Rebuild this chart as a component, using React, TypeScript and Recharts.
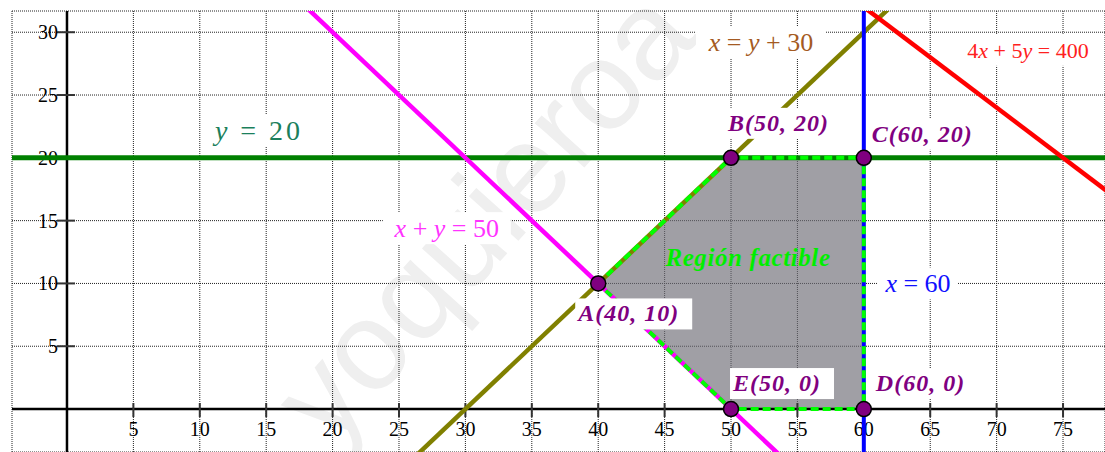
import React from "react";
import {
  ComposedChart,
  XAxis,
  YAxis,
  CartesianGrid,
  Line,
  Area,
  Scatter,
  ReferenceLine,
  ReferenceDot,
} from "recharts";

const xTicks = [5, 10, 15, 20, 25, 30, 35, 40, 45, 50, 55, 60, 65, 70, 75];
const yTicks = [5, 10, 15, 20, 25, 30];

// each constraint line, two points taken well outside the visible window
const rectaY20 = [{ x: -10, y: 20 }, { x: 90, y: 20 }];
const rectaSuma50 = [{ x: 10, y: 40 }, { x: 60, y: -10 }];
const rectaResta30 = [{ x: 20, y: -10 }, { x: 70, y: 40 }];
const rectaX60 = [{ x: 60, y: -10 }, { x: 60, y: 40 }];
const recta400 = [{ x: 50, y: 40 }, { x: 100, y: 0 }];

const vertices = [
  { nombre: "A", x: 40, y: 10 },
  { nombre: "B", x: 50, y: 20 },
  { nombre: "C", x: 60, y: 20 },
  { nombre: "D", x: 60, y: 0 },
  { nombre: "E", x: 50, y: 0 },
];

// feasible region as a range area (low, high) over x
const regionX = [40, 50, 60];
const regionBajo = [10, 0, 0];
const regionAlto = [10, 20, 20];

const region = regionX.map((x, i) => ({ x, rango: [regionBajo[i], regionAlto[i]] }));
const borde = [...vertices, vertices[0]];

// placement of the vertex labels (pixel offsets from the point)
const vertexLayout: Record<string, { dx: number; dy: number; w: number }> = {
  A: { dx: -20, dy: 30, w: 117 },
  B: { dx: -3, dy: -35, w: 115 },
  C: { dx: 8, dy: -24, w: 110 },
  D: { dx: 12, dy: -26, w: 100 },
  E: { dx: 2, dy: -26, w: 104 },
};

type Part = [string, boolean];
const lineLabels: {
  x: number;
  y: number;
  parts: Part[];
  color: string;
  size: number;
  w: number;
  spacing?: number;
}[] = [
  { x: 14.46, y: 22.2, parts: [["y", true], [" = 20", false]], color: "#1b7f5c", size: 28, w: 100, spacing: 3 },
  { x: 28.6, y: 14.4, parts: [["x", true], [" + ", false], ["y", true], [" = 50", false]], color: "#ff33ff", size: 26, w: 128 },
  { x: 52.26, y: 29.2, parts: [["x", true], [" = ", false], ["y", true], [" + 30", false]], color: "#a45a22", size: 26, w: 130 },
  { x: 72.36, y: 28.6, parts: [["4", false], ["x", true], [" + 5", false], ["y", true], [" = 400", false]], color: "#ff2020", size: 22, w: 140 },
  { x: 64.08, y: 10.0, parts: [["x", true], [" = 60", false]], color: "#1010ff", size: 26, w: 80 },
];

const serif = "'Liberation Serif', 'Times New Roman', serif";

function XTick(p: any, t: number) {
  return (
    <g>
      <line x1={p.cx} y1={p.cy - 6} x2={p.cx} y2={p.cy + 8} stroke="#333" strokeWidth={2} />
      <text x={p.cx} y={p.cy + 20} textAnchor="middle" dominantBaseline="central" fontFamily={serif} fontSize={20} fill="#000">
        {t}
      </text>
    </g>
  );
}

function YTick(p: any, t: number) {
  return (
    <g>
      <line x1={p.cx - 10} y1={p.cy} x2={p.cx + 8} y2={p.cy} stroke="#333" strokeWidth={2} />
      <text x={p.cx - 9} y={p.cy} textAnchor="end" dominantBaseline="central" fontFamily={serif} fontSize={20} fill="#000">
        {t}
      </text>
    </g>
  );
}

export default function App() {
  return (
    <div style={{ position: "absolute", left: 0, top: 0, width: 1105, height: 452, background: "#fff" }}>
      <svg width={1105} height={452} style={{ position: "absolute", left: 0, top: 0 }}>
        <text
          x={330}
          y={450}
          transform="rotate(-48 330 450)"
          fontFamily="'Liberation Sans', Arial, sans-serif"
          fontSize={126}
          fill="#efefef"
        >
          yoquieroa
        </text>
      </svg>
      <div style={{ position: "absolute", left: 0, top: 0 }}>
        <ComposedChart width={1105} height={452} margin={{ top: 11, right: 0, bottom: 0, left: 12 }}>
          <XAxis type="number" dataKey="x" domain={[-4.14, 78.16]} ticks={xTicks} allowDataOverflow hide />
          <YAxis type="number" dataKey="y" domain={[-3.42, 31.69]} ticks={yTicks} allowDataOverflow hide />
          <CartesianGrid stroke="#222" strokeDasharray="1 1" />

          <Area
            data={region}
            dataKey="rango"
            type="linear"
            fill="#6d6c74"
            fillOpacity={0.65}
            stroke="none"
            isAnimationActive={false}
            zIndex={100}
          />

          <ReferenceLine x={0} stroke="#000" strokeWidth={2.5} zIndex={150} />
          <ReferenceLine y={0} stroke="#000" strokeWidth={2.5} zIndex={150} />

          {xTicks.map((t) => (
            <ReferenceDot key={"xt" + t} x={t} y={0} r={0} shape={(p: any) => XTick(p, t)} zIndex={160} />
          ))}
          {yTicks.map((t) => (
            <ReferenceDot key={"yt" + t} x={0} y={t} r={0} shape={(p: any) => YTick(p, t)} zIndex={160} />
          ))}

          <Line data={rectaY20} dataKey="y" type="linear" stroke="#008000" strokeWidth={5} dot={false} activeDot={false} isAnimationActive={false} zIndex={400} />
          <Line data={rectaSuma50} dataKey="y" type="linear" stroke="#ff00ff" strokeWidth={4.5} dot={false} activeDot={false} isAnimationActive={false} zIndex={400} />
          <Line data={rectaResta30} dataKey="y" type="linear" stroke="#808000" strokeWidth={4.5} dot={false} activeDot={false} isAnimationActive={false} zIndex={400} />
          <Line data={rectaX60} dataKey="y" type="linear" stroke="#0000ff" strokeWidth={4} dot={false} activeDot={false} isAnimationActive={false} zIndex={400} />
          <Line data={recta400} dataKey="y" type="linear" stroke="#ff0000" strokeWidth={4.5} dot={false} activeDot={false} isAnimationActive={false} zIndex={400} />

          <Line
            data={borde}
            dataKey="y"
            type="linear"
            stroke="#00ff00"
            strokeWidth={4}
            strokeDasharray="8 4"
            dot={false}
            activeDot={false}
            isAnimationActive={false}
            zIndex={450}
          />

          <Scatter
            data={vertices}
            isAnimationActive={false}
            zIndex={600}
            shape={(p: any) => <circle cx={p.cx} cy={p.cy} r={7.5} fill="#800080" stroke="#000" strokeWidth={1.5} />}
          />

          <ReferenceDot
            x={51.28}
            y={12.1}
            r={0}
            zIndex={2000}
            shape={(p: any) => (
              <text
                x={p.cx}
                y={p.cy}
                textAnchor="middle"
                dominantBaseline="central"
                fontFamily={serif}
                fontSize={25}
                fontWeight="bold"
                fontStyle="italic"
                letterSpacing={0.6}
                fill="#00ee00"
              >
                Región factible
              </text>
            )}
          />

          {lineLabels.map((l, i) => (
            <ReferenceDot
              key={"ll" + i}
              x={l.x}
              y={l.y}
              r={0}
              zIndex={2000}
              shape={(p: any) => (
                <g>
                  <rect x={p.cx - l.w / 2} y={p.cy - 16} width={l.w} height={32} fill="#fff" />
                  <text
                    x={p.cx}
                    y={p.cy}
                    textAnchor="middle"
                    dominantBaseline="central"
                    fontFamily={serif}
                    fontSize={l.size}
                    letterSpacing={l.spacing ?? 0}
                    fill={l.color}
                    style={{ whiteSpace: "pre" }}
                  >
                    {l.parts.map(([s, it], k) => (
                      <tspan key={k} fontStyle={it ? "italic" : "normal"}>
                        {s}
                      </tspan>
                    ))}
                  </text>
                </g>
              )}
            />
          ))}

          {vertices.map((v) => {
            const lay = vertexLayout[v.nombre];
            return (
              <ReferenceDot
                key={"v" + v.nombre}
                x={v.x}
                y={v.y}
                r={0}
                zIndex={2000}
                shape={(p: any) => (
                  <g>
                    <rect x={p.cx + lay.dx - 3} y={p.cy + lay.dy - 15} width={lay.w} height={31} fill="#fff" />
                    <text
                      x={p.cx + lay.dx}
                      y={p.cy + lay.dy}
                      dominantBaseline="central"
                      fontFamily={serif}
                      fontSize={24}
                      fontWeight="bold"
                      fontStyle="italic"
                      letterSpacing={1}
                      fill="#800080"
                      style={{ whiteSpace: "pre" }}
                    >
                      {`${v.nombre}(${v.x}, ${v.y})`}
                    </text>
                  </g>
                )}
              />
            );
          })}
        </ComposedChart>
      </div>
    </div>
  );
}
